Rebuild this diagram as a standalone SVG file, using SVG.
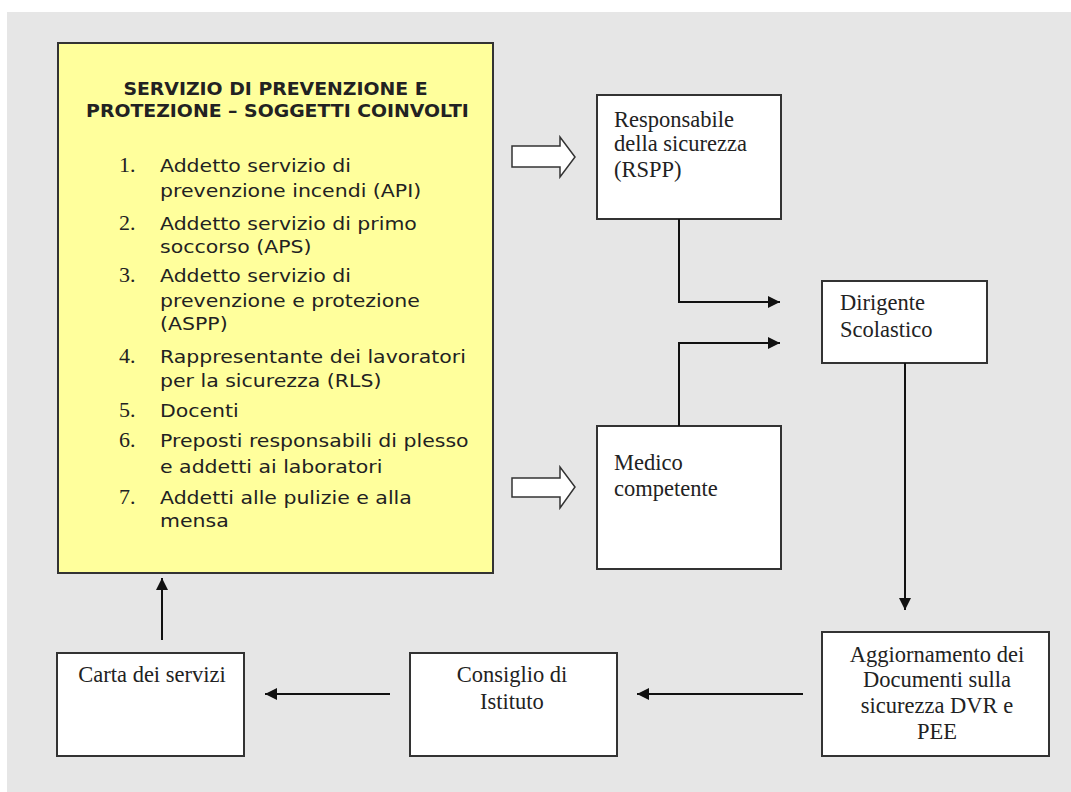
<svg xmlns="http://www.w3.org/2000/svg" width="1071" height="792" viewBox="0 0 1071 792">
<defs>
<style>
.box{fill:#ffffff;stroke:#333333;stroke-width:2}
.yel{fill:#ffff9c;stroke:#333333;stroke-width:2}
.title{font-family:"DejaVu Sans",Verdana,sans-serif;font-weight:bold;font-size:17px;fill:#222;text-anchor:middle}
.li{font-family:"DejaVu Sans",Verdana,sans-serif;font-size:18px;fill:#222}
.num{font-family:"Liberation Serif","Times New Roman",serif;font-size:22px;fill:#222}
.t{font-family:"Liberation Serif","Times New Roman",serif;font-size:22.5px;fill:#222}
.tc{font-family:"Liberation Serif","Times New Roman",serif;font-size:22.5px;fill:#222;text-anchor:middle}
.ln{fill:none;stroke:#111;stroke-width:2}
.hollow{fill:#ffffff;stroke:#333;stroke-width:1.5}
</style>
<marker id="ah" viewBox="0 0 10 10" refX="10" refY="5" markerWidth="6" markerHeight="6" markerUnits="strokeWidth" orient="auto">
<path d="M0,0 L10,5 L0,10 z" fill="#111"/>
</marker>
</defs>
<rect x="0" y="0" width="1071" height="792" fill="#ffffff"/>
<rect x="7" y="12" width="1064" height="780" fill="#e6e6e6"/>

<g id="servizio">
<rect class="yel" x="58" y="43" width="435" height="530"/>
<text class="title" transform="translate(275.5,95) scale(1.11,1)" x="0" y="0">SERVIZIO DI PREVENZIONE E</text>
<text class="title" transform="translate(277.5,117) scale(1.11,1)" x="0" y="0">PROTEZIONE – SOGGETTI COINVOLTI</text>
<text class="num" x="119" y="172">1.</text>
<text class="num" x="119" y="230">2.</text>
<text class="num" x="119" y="282">3.</text>
<text class="num" x="119" y="363">4.</text>
<text class="num" x="119" y="417">5.</text>
<text class="num" x="119" y="447">6.</text>
<text class="num" x="119" y="504">7.</text>
<g transform="translate(160,0) scale(1.137,1)">
<text class="li" x="0" y="172">Addetto servizio di</text>
<text class="li" x="0" y="197">prevenzione incendi (API)</text>
<text class="li" x="0" y="230">Addetto servizio di primo</text>
<text class="li" x="0" y="253">soccorso (APS)</text>
<text class="li" x="0" y="282">Addetto servizio di</text>
<text class="li" x="0" y="307">prevenzione e protezione</text>
<text class="li" x="0" y="330">(ASPP)</text>
<text class="li" x="0" y="363">Rappresentante dei lavoratori</text>
<text class="li" x="0" y="387">per la sicurezza (RLS)</text>
<text class="li" x="0" y="417">Docenti</text>
<text class="li" x="0" y="447">Preposti responsabili di plesso</text>
<text class="li" x="0" y="473">e addetti ai laboratori</text>
<text class="li" x="0" y="504">Addetti alle pulizie e alla</text>
<text class="li" x="0" y="527">mensa</text>
</g>
</g>

<g id="rspp">
<rect class="box" x="597" y="95" width="184" height="124"/>
<text class="t" x="614" y="127">Responsabile</text>
<text class="t" x="614" y="151">della sicurezza</text>
<text class="t" x="614" y="177">(RSPP)</text>
</g>

<g id="medico">
<rect class="box" x="597" y="426" width="184" height="143"/>
<text class="t" x="614" y="470">Medico</text>
<text class="t" x="614" y="496">competente</text>
</g>

<g id="dirigente">
<rect class="box" x="822" y="281" width="165" height="82"/>
<text class="t" x="840" y="310">Dirigente</text>
<text class="t" x="840" y="337">Scolastico</text>
</g>

<g id="aggiornamento">
<rect class="box" x="822" y="632" width="227" height="124"/>
<text class="tc" x="937" y="662">Aggiornamento dei</text>
<text class="tc" x="937" y="687">Documenti sulla</text>
<text class="tc" x="937" y="713">sicurezza DVR e</text>
<text class="tc" x="937" y="739">PEE</text>
</g>

<g id="consiglio">
<rect class="box" x="410" y="653" width="207" height="103"/>
<text class="tc" x="512" y="682">Consiglio di</text>
<text class="tc" x="512" y="709">Istituto</text>
</g>

<g id="carta">
<rect class="box" x="57" y="653" width="187" height="103"/>
<text class="tc" x="152" y="682">Carta dei servizi</text>
</g>

<g id="connectors">
<path class="hollow" d="M512,146 L560,146 L560,137 L575,157 L560,177 L560,167 L512,167 z"/>
<path class="hollow" d="M512,478 L560,478 L560,467 L575,487 L560,508 L560,497 L512,497 z"/>
<path class="ln" d="M679,219 L679,302 L780,302" marker-end="url(#ah)"/>
<path class="ln" d="M679,426 L679,343 L780,343" marker-end="url(#ah)"/>
<path class="ln" d="M905,363 L905,610" marker-end="url(#ah)"/>
<path class="ln" d="M803,694 L637,694" marker-end="url(#ah)"/>
<path class="ln" d="M390,694 L265,694" marker-end="url(#ah)"/>
<path class="ln" d="M162,640 L162,578" marker-end="url(#ah)"/>
</g>
</svg>
